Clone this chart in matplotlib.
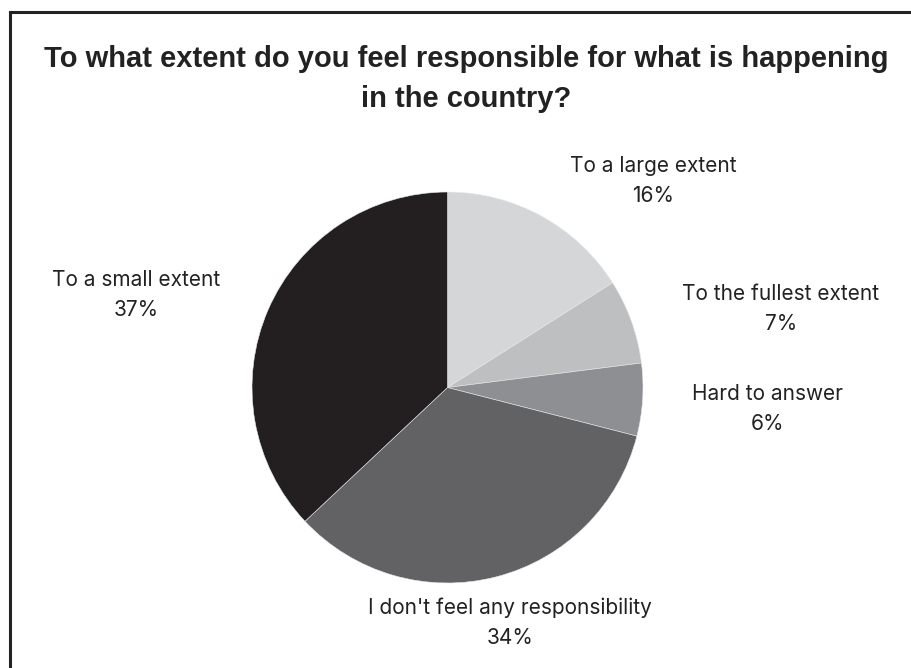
import matplotlib
matplotlib.use("Agg")
import matplotlib.pyplot as plt
from matplotlib.lines import Line2D

categories = ["To a large extent", "To the fullest extent", "Hard to answer",
              "I don't feel any responsibility", "To a small extent"]
values = [16, 7, 6, 34, 37]
colors = ["#d5d6d8", "#bebfc1", "#8e8f92", "#626264", "#231f20"]
title_lines = ["To what extent do you feel responsible for what is happening",
               "in the country?"]

W, H = 911, 668
fig = plt.figure(figsize=(W / 100, H / 100), dpi=100)
ax = fig.add_axes([0, 0, 1, 1])

cx, cy, r = 447.5, H - 387.5, 195.5
ax.pie(values, colors=colors, startangle=90, counterclock=False,
       center=(cx, cy), radius=r, frame=True,
       wedgeprops=dict(linewidth=0.4, edgecolor="#e8e8e8"))
ax.set_xlim(0, W)
ax.set_ylim(0, H)
ax.set_aspect("equal")
ax.axis("off")

# frame lines (left and top)
ax.add_line(Line2D([10, 10], [0, H - 12], color="#222222", lw=2.2,
                   solid_capstyle="projecting"))
ax.add_line(Line2D([10, W], [H - 12, H - 12], color="#222222", lw=2.2,
                   solid_capstyle="projecting"))

# title
for txt, base in zip(title_lines, [67, 107]):
    ax.text(466, H - base, txt, ha="center", va="baseline", fontsize=21,
            fontweight="bold", family="Liberation Sans", color="#222222")

# labels: (center x, center y of the two-line block)
label_pos = [(653.5, 177), (781, 305), (768, 404.5), (510, 619.5), (136, 291)]
for (lx, ly), cat, v in zip(label_pos, categories, values):
    ax.text(lx, H - (ly - 5.0), cat, ha="center", va="baseline",
            fontsize=15, family="Inter", color="#222222")
    ax.text(lx, H - (ly + 25.0), f"{v}%", ha="center", va="baseline",
            fontsize=15, family="Inter", color="#222222")

fig.savefig("out.png", dpi=100, facecolor="white")
